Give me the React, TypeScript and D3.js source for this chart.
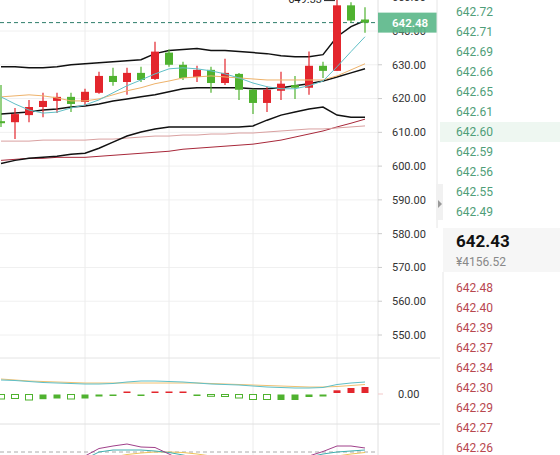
import React from 'react';
import * as d3 from 'd3';

// candles, red = up, green = down
const OPEN = [613.3, 613.0, 615.1, 617.5, 619.3, 620.5, 619.0, 621.7, 626.7, 624.9, 627.6, 625.8, 633.6, 630.0, 626.4, 628.5, 624.6, 627.3, 622.6, 618.7, 622.3, 624.0, 623.2, 629.7, 628.2, 647.6, 643.4];
const HIGH = [624.0, 617.2, 619.6, 621.7, 621.7, 621.7, 622.9, 627.9, 629.1, 629.1, 629.4, 636.8, 634.5, 630.9, 629.7, 629.4, 631.8, 627.6, 622.9, 623.5, 627.9, 626.7, 633.9, 630.9, 649.3, 648.5, 647.0];
const LOW = [611.6, 608.0, 613.0, 614.5, 615.7, 616.0, 617.8, 621.4, 623.8, 621.1, 624.9, 625.5, 629.4, 625.5, 624.9, 621.7, 624.0, 619.6, 615.4, 616.0, 619.6, 619.9, 621.1, 626.1, 628.2, 642.5, 639.5];
const CLOSE = [612.7, 615.4, 617.5, 619.3, 620.5, 618.4, 622.0, 626.7, 624.9, 627.6, 625.5, 633.9, 630.0, 626.1, 628.5, 624.6, 627.6, 622.6, 618.7, 622.6, 624.4, 623.2, 629.7, 628.2, 647.6, 643.1, 642.48];

// BOLL
const BOLL_UP = [629.4, 629.4, 629.1, 629.1, 629.4, 630.0, 630.3, 630.6, 630.9, 631.2, 631.5, 633.3, 634.2, 634.5, 634.8, 634.2, 634.2, 633.9, 633.6, 633.3, 632.7, 632.4, 632.4, 633.0, 638.3, 641.3, 643.1];
const BOLL_MID = [615.4, 615.7, 616.0, 616.6, 616.9, 617.5, 617.8, 618.4, 619.3, 619.9, 620.5, 621.1, 622.0, 622.9, 623.2, 623.2, 623.2, 623.2, 622.9, 622.9, 623.2, 623.8, 624.4, 625.2, 626.4, 627.6, 628.8];
const BOLL_LOW = [600.8, 601.7, 602.3, 602.6, 602.9, 603.5, 603.8, 605.3, 607.1, 608.9, 610.1, 611.0, 611.6, 611.6, 611.6, 611.6, 611.6, 611.6, 611.9, 613.6, 615.1, 616.0, 616.9, 617.5, 615.1, 614.5, 614.5];

// moving averages
const MA5 = [620.5, 618.4, 616.6, 615.7, 616.0, 617.2, 618.1, 619.6, 621.7, 623.8, 625.5, 627.3, 628.8, 629.1, 628.8, 628.2, 627.3, 626.1, 624.6, 623.5, 622.9, 622.9, 623.8, 625.2, 629.4, 633.9, 638.3];
const MA10 = [620.5, 620.8, 621.1, 620.8, 620.2, 619.3, 619.3, 619.9, 621.1, 622.3, 623.2, 624.4, 625.2, 626.1, 626.4, 626.7, 626.4, 626.1, 625.8, 625.5, 625.5, 625.5, 625.5, 625.5, 626.7, 628.5, 630.3];
const MA30 = [607.4, 607.4, 607.4, 607.7, 607.7, 607.7, 607.7, 608.0, 608.0, 608.3, 608.6, 608.9, 608.9, 609.2, 609.2, 609.5, 609.5, 609.8, 609.8, 610.1, 610.4, 610.7, 611.0, 611.0, 611.3, 611.6, 611.9];
const MA60 = [601.7, 602.0, 602.3, 602.3, 602.6, 602.6, 602.6, 602.9, 603.2, 603.5, 603.8, 604.1, 604.4, 605.0, 605.3, 605.6, 605.9, 606.2, 606.5, 607.1, 607.7, 608.6, 609.5, 610.4, 611.6, 612.7, 613.9];

const PRICE_TICKS = [650, 640, 630, 620, 610, 600, 590, 580, 570, 560, 550];
const LAST_PRICE = 642.48;
const HIGH_LABEL = '649.33';

// MACD
const MACD_HIST = [-0.45, -0.4, -0.55, -0.47, -0.4, -0.45, -0.4, -0.2, -0.15, 0.15, -0.15, 0.15, 0.15, 0.15, -0.15, -0.18, -0.2, -0.35, -0.5, -0.5, -0.55, -0.55, -0.25, -0.2, 0.27, 0.5, 0.6];
const MACD_HOLLOW = [true, true, true, false, false, true, false, false, false, false, false, false, false, false, false, true, true, true, true, true, false, false, false, false, false, false, false];
const DIF = [1.4, 1.35, 1.25, 1.15, 1.1, 1.05, 1.0, 1.0, 1.05, 1.2, 1.3, 1.3, 1.25, 1.2, 1.1, 1.0, 0.95, 0.9, 0.8, 0.7, 0.65, 0.6, 0.6, 0.65, 0.95, 1.1, 1.2];
const DEA = [1.5, 1.4, 1.3, 1.25, 1.2, 1.15, 1.1, 1.1, 1.1, 1.1, 1.1, 1.1, 1.1, 1.1, 1.1, 1.05, 1.0, 0.95, 0.9, 0.85, 0.8, 0.75, 0.7, 0.7, 0.75, 0.85, 0.95];

// KDJ
const K = [55, 52, 50, 50, 53, 58, 66, 80, 84, 84, 84, 82, 79, 74, 68, 62, 56, 50, 46, 48, 56, 63, 70, 76, 80, 82, 84];
const D = [58, 56, 54, 52, 52, 54, 58, 64, 70, 75, 78, 80, 80, 79, 76, 72, 68, 63, 58, 55, 55, 58, 63, 68, 72, 76, 79];
const J = [60, 50, 45, 48, 55, 62, 72, 87, 92, 96, 90, 89, 76, 62, 55, 48, 40, 35, 30, 38, 50, 62, 72, 81, 92, 92, 88];

// order book
const ASKS = ['642.72', '642.71', '642.69', '642.66', '642.65', '642.61', '642.60', '642.59', '642.56', '642.55', '642.49'];
const BIDS = ['642.48', '642.40', '642.39', '642.37', '642.34', '642.30', '642.29', '642.27', '642.26'];
const LAST = '642.43';
const LAST_CNY = '¥4156.52';
const ASK_HIGHLIGHT = 6;

const W = 560;
const H = 455;
const AXIS_X = 378;
const BOOK_X = 440;
const MAIN_BOTTOM = 358;
const MACD_BOTTOM = 424;

const RED = '#e3262d';
const GREEN = '#4fb22f';

export default function App() {
  const n = CLOSE.length;
  const idx = d3.range(n);
  const x = d3.scaleLinear().domain([0, n - 1]).range([1, 365]);
  const y = d3.scaleLinear().domain([550, 640]).range([335, 31]);
  const yMacd = d3.scaleLinear().domain([-3, 3]).range([424, 364]);
  const yKdj = d3.scaleLinear().domain([80, 100]).range([452, 442]);
  const askY = d3.scalePoint<number>().domain(d3.range(ASKS.length)).range([12, 212]);
  const bidY = d3.scalePoint<number>().domain(d3.range(BIDS.length)).range([288, 448]);

  const path = (arr: number[], sc: d3.ScaleLinear<number, number>) =>
    d3.line<number>().x((_, i) => x(i)).y(v => sc(v))(arr) || '';

  const gridX = [6, 12, 18, 24].map(i => x(i));
  const bw = 8;

  return (
    <div style={{ position: 'absolute', left: 0, top: 0, width: W, height: H, overflow: 'hidden', background: '#fff' }}>
      <svg width={W} height={H} style={{ display: 'block', fontFamily: 'Roboto, "Liberation Sans", sans-serif' }}>
        <defs>
          <clipPath id="main"><rect x={0} y={0} width={AXIS_X} height={MAIN_BOTTOM} /></clipPath>
          <clipPath id="kdj"><rect x={0} y={MACD_BOTTOM + 1} width={AXIS_X} height={H - MACD_BOTTOM} /></clipPath>
        </defs>

        {/* grid */}
        {PRICE_TICKS.map(t => (
          <line key={t} x1={0} x2={AXIS_X} y1={y(t)} y2={y(t)} stroke="#f0f0f0" />
        ))}
        {gridX.map(gx => (
          <line key={gx} x1={gx} x2={gx} y1={0} y2={H} stroke="#ececec" />
        ))}
        <line x1={0} x2={BOOK_X} y1={MAIN_BOTTOM} y2={MAIN_BOTTOM} stroke="#e4e4e4" />
        <line x1={0} x2={BOOK_X} y1={MACD_BOTTOM} y2={MACD_BOTTOM} stroke="#e0e0e0" />
        <line x1={AXIS_X} x2={AXIS_X} y1={0} y2={H} stroke="#e0e0e0" />

        {/* main chart */}
        <g clipPath="url(#main)">
          <path d={path(MA60, y)} fill="none" stroke="#a8283a" strokeWidth={1} />
          <path d={path(MA30, y)} fill="none" stroke="#d9a0a0" strokeWidth={1} />
          <path d={path(BOLL_LOW, y)} fill="none" stroke="#111" strokeWidth={1.5} />
          <path d={path(BOLL_UP, y)} fill="none" stroke="#111" strokeWidth={1.5} />
          <path d={path(BOLL_MID, y)} fill="none" stroke="#111" strokeWidth={1.5} />
          <line x1={0} x2={AXIS_X} y1={y(LAST_PRICE)} y2={y(LAST_PRICE)} stroke="#2e7d6a" strokeDasharray="4,3" />
          {idx.map(i => {
            const up = CLOSE[i] >= OPEN[i];
            const c = up ? RED : GREEN;
            const top = y(Math.max(OPEN[i], CLOSE[i]));
            const bot = y(Math.min(OPEN[i], CLOSE[i]));
            return (
              <g key={i}>
                <line x1={x(i)} x2={x(i)} y1={y(HIGH[i])} y2={y(LOW[i])} stroke={c} strokeWidth={1.2} />
                <rect x={x(i) - bw / 2} y={top} width={bw} height={Math.max(1, bot - top)} fill={c} />
              </g>
            );
          })}
          <path d={path(MA10, y)} fill="none" stroke="#eeb26a" strokeWidth={1} />
          <path d={path(MA5, y)} fill="none" stroke="#5fbfc6" strokeWidth={1} />
          <text x={x(24) - 15} y={3} textAnchor="end" fontSize={11} fill="#222">{HIGH_LABEL}</text>
          <line x1={x(24) - 13} x2={x(24) - 2} y1={y(HIGH[24]) + 1} y2={y(HIGH[24]) + 1} stroke="#222" />
        </g>

        {/* right axis */}
        {PRICE_TICKS.map(t => (
          <g key={t}>
            <line x1={AXIS_X} x2={AXIS_X + 4} y1={y(t)} y2={y(t)} stroke="#ccc" />
            <text x={392} y={y(t)} dy="0.35em" fontSize={11} fill="#333">{t.toFixed(2)}</text>
          </g>
        ))}
        <rect x={AXIS_X} y={y(LAST_PRICE) - 10} width={59} height={20} fill="#5db88b" opacity={0.92} />
        <text x={392} y={y(LAST_PRICE)} dy="0.35em" fontSize={11.5} fontWeight={600} fill="#fff">{LAST_PRICE.toFixed(2)}</text>

        {/* MACD */}
        <path d={path(DEA, yMacd)} fill="none" stroke="#f0c070" strokeWidth={1} />
        <path d={path(DIF, yMacd)} fill="none" stroke="#5fbfc6" strokeWidth={1} />
        {idx.map(i => {
          const v = MACD_HIST[i];
          const c = v >= 0 ? RED : GREEN;
          const top = yMacd(Math.max(v, 0));
          const h = Math.max(1.5, Math.abs(yMacd(v) - yMacd(0)));
          const hollow = MACD_HOLLOW[i];
          return hollow ? (
            <rect key={i} x={x(i) - 3.5} y={top + 0.5} width={7} height={h} fill="#fff" stroke={c} strokeWidth={1} />
          ) : (
            <rect key={i} x={x(i) - 3.5} y={v >= 0 ? top - 1 : top + 0.5} width={7} height={h} fill={c} />
          );
        })}
        <line x1={AXIS_X} x2={AXIS_X + 5} y1={yMacd(0)} y2={yMacd(0)} stroke="#f3c9c9" />
        <text x={398} y={yMacd(0)} dy="0.35em" fontSize={11} fill="#333">0.00</text>

        {/* KDJ */}
        <g clipPath="url(#kdj)">
          <line x1={0} x2={AXIS_X} y1={yKdj(80)} y2={yKdj(80)} stroke="#aaa" strokeDasharray="4,3" />
          <path d={path(D, yKdj)} fill="none" stroke="#eec35a" strokeWidth={1} />
          <path d={path(K, yKdj)} fill="none" stroke="#3fb0b0" strokeWidth={1} />
          <path d={path(J, yKdj)} fill="none" stroke="#a0408a" strokeWidth={1} />
        </g>

        {/* order book */}
        <rect x={BOOK_X} y={0} width={W - BOOK_X} height={H} fill="#fff" />
        <line x1={BOOK_X - 3} x2={BOOK_X - 3} y1={0} y2={228} stroke="#e6e6e6" />
        <line x1={BOOK_X + 3} x2={BOOK_X + 3} y1={272} y2={H} stroke="#e6e6e6" />
        <rect x={BOOK_X - 4} y={184} width={7} height={36} fill="#f1f1f1" />
        <path d="M438,200 L442,204 L438,208 Z" fill="#999" />
        <rect x={BOOK_X} y={(askY(ASK_HIGHLIGHT) as number) - 10} width={W - BOOK_X} height={20} fill="#eef7f1" />
        {ASKS.map((p, i) => (
          <text key={p} x={456} y={askY(i)} dy="0.35em" fontSize={12} fill="#4f9e78">{p}</text>
        ))}
        <rect x={BOOK_X + 3} y={228} width={W - BOOK_X - 3} height={44} fill="#f6f6f6" />
        <text x={456} y={241} dy="0.35em" fontSize={17} fontWeight={700} fill="#111">{LAST}</text>
        <text x={456} y={262} dy="0.35em" fontSize={12} fill="#888">{LAST_CNY}</text>
        {BIDS.map((p, i) => (
          <text key={p} x={456} y={bidY(i)} dy="0.35em" fontSize={12} fill="#b8474f">{p}</text>
        ))}
      </svg>
    </div>
  );
}
